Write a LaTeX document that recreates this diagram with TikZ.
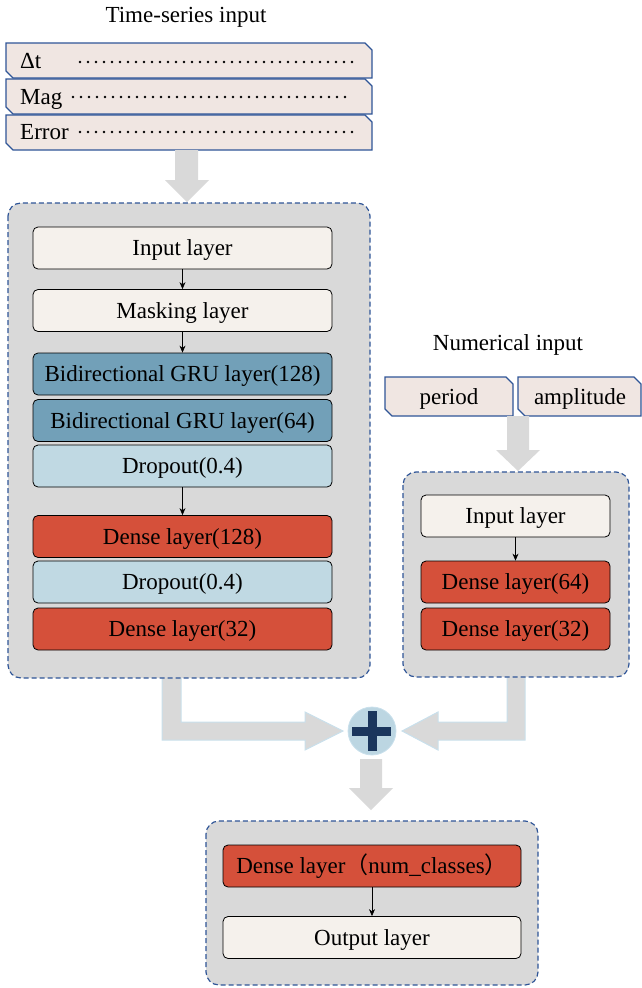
\documentclass[tikz,border=0pt]{standalone}
\usepackage{fontspec}
\usetikzlibrary{arrows.meta}
\setmainfont{Liberation Serif}
\newfontfamily\cjkfont{Noto Sans CJK SC}
\definecolor{cream}{HTML}{F5F1EC}
\definecolor{gru}{HTML}{72A0B8}
\definecolor{drop}{HTML}{C0D9E3}
\definecolor{dense}{HTML}{D5503A}
\definecolor{boxgray}{HTML}{D9D9D9}
\definecolor{bordblue}{HTML}{2F5597}
\definecolor{inrow}{HTML}{F0E6E2}
\definecolor{arrline}{HTML}{C9E0EC}
\definecolor{plusc}{HTML}{1B365D}
\definecolor{circc}{HTML}{BCD6E2}
\newcommand{\inrowshape}[4]{% x1,y1,x2,y2
  \filldraw[inrowbox] (#1,#2) -- ({#3-7},#2) -- (#3,{#2+7}) -- (#3,#4) -- ({#1+7},#4) -- (#1,{#4-7}) -- cycle;}
\begin{document}
\begin{tikzpicture}[x=1pt,y=-1pt,
  every node/.style={font=\fontsize{23}{27}\selectfont, inner sep=0pt, text height=19pt, text depth=4pt},
  layer/.style={draw=black, line width=0.8pt, rounded corners=5pt, minimum height=42pt},
  lw/.style={layer, minimum width=299pt},
  rw/.style={layer, minimum width=189pt},
  container/.style={draw=bordblue, fill=boxgray, line width=1.2pt, dash pattern=on 5pt off 3pt, rounded corners=13pt},
  inrowbox/.style={draw=bordblue, fill=inrow, line width=1.3pt},
  dots/.style={line width=2.6pt, line cap=round, dash pattern=on 0pt off 8pt},
  blockarrow/.style={fill=boxgray},
  elbow/.style={fill=boxgray, draw=arrline, line width=1pt},
  thin/.style={-{Stealth[length=7pt,width=6pt]}, line width=0.7pt, black}]
\useasboundingbox (0,0) rectangle (642,988);

% ---- titles
\node (tstitle) at (186,15) {Time-series input};
\node (numtitle) at (508,343) {Numerical input};

% ---- time-series input rows
\inrowshape{6}{43}{372}{78}
\inrowshape{6}{79}{372}{114}
\inrowshape{6}{115}{372}{150}
\node[anchor=west] (dt) at (20,61) {Δt};
\node[anchor=west] (mag) at (20,97) {Mag};
\node[anchor=west] (err) at (20,132) {Error};
\draw[dots] (80,62) -- (356,62);
\draw[dots] (73,97) -- (349,97);
\draw[dots] (80,132) -- (356,132);

% ---- numerical input boxes
\inrowshape{385}{377}{513}{416}
\inrowshape{518}{377}{641}{416}
\node (period) at (449,397) {period};
\node (ampl) at (580,397) {amplitude};

% ---- block arrows (down)
\fill[blockarrow] (175,150) -- (198,150) -- (198,180) -- (209,180) -- (187,202) -- (165,180) -- (175,180) -- cycle;
\fill[blockarrow] (507,416) -- (529,416) -- (529,450) -- (540,450) -- (518,471) -- (496,450) -- (507,450) -- cycle;
\fill[blockarrow] (360,759) -- (382,759) -- (382,788) -- (393,788) -- (371,810) -- (349,788) -- (360,788) -- cycle;

% ---- elbow arrows
\filldraw[elbow] (162,670) -- (162,740) -- (305,740) -- (305,750) -- (343,731) -- (305,712) -- (305,722) -- (181,722) -- (181,670);
\filldraw[elbow] (525,670) -- (525,740) -- (438,740) -- (438,750) -- (402,731) -- (438,712) -- (438,722) -- (507,722) -- (507,670);

% ---- containers
\draw[container] (8,203) rectangle (370,678);
\draw[container] (403,472) rectangle (629,677);
\draw[container] (206,821) rectangle (538,985);

% ---- left branch layers
\node[lw, fill=cream] (in1) at (182.5,248) {Input layer};
\node[lw, fill=cream] (mask) at (182.5,310.5) {Masking layer};
\node[lw, fill=gru] (gru1) at (182.5,374) {Bidirectional GRU layer(128)};
\node[lw, fill=gru] (gru2) at (182.5,420.5) {Bidirectional GRU layer(64)};
\node[lw, fill=drop] (drop1) at (182.5,466) {Dropout(0.4)};
\node[lw, fill=dense] (d128) at (182.5,536.5) {Dense layer(128)};
\node[lw, fill=drop] (drop2) at (182.5,582) {Dropout(0.4)};
\node[lw, fill=dense] (d32) at (182.5,629) {Dense layer(32)};
\draw[thin] (in1) -- (mask);
\draw[thin] (mask) -- (gru1);
\draw[thin] (drop1) -- (d128);

% ---- right branch layers
\node[rw, fill=cream] (in2) at (515.5,516) {Input layer};
\node[rw, fill=dense] (d64) at (515.5,582) {Dense layer(64)};
\node[rw, fill=dense] (d32b) at (515.5,629) {Dense layer(32)};
\draw[thin] (in2) -- (d64);

% ---- concatenation
\node[circle, fill=circc, draw=arrline, line width=0.8pt, minimum size=48pt, text height=0pt, text depth=0pt] (plus) at (372,731) {};
\fill[plusc] (352,726.5) rectangle (391,735.5);
\fill[plusc] (367.5,711) rectangle (376.5,751);

% ---- output part
\node[layer, minimum width=298pt, fill=dense] (dnc) at (372,866) {Dense layer{\cjkfont （}num\_classes{\cjkfont ）}};
\node[layer, minimum width=298pt, fill=cream] (out) at (372,937.5) {Output layer};
\draw[thin] (dnc) -- (out);
\end{tikzpicture}
\end{document}
